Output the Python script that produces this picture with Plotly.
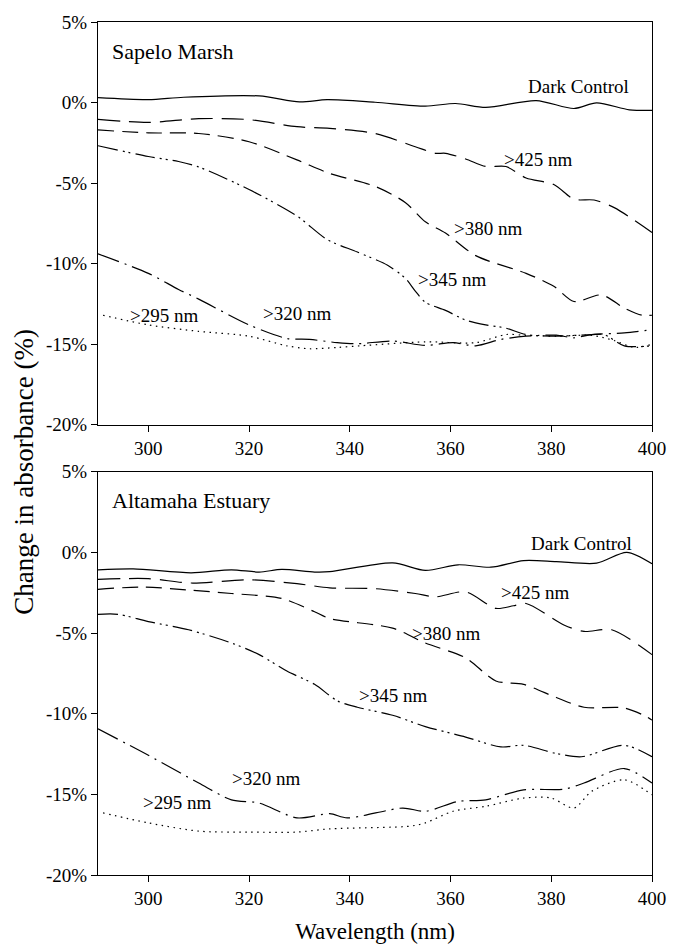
import plotly.graph_objects as go
from plotly.subplots import make_subplots

# ---------------- data (wavelength nm, change in absorbance %) ----------------
# Sapelo Marsh (top panel)
sap_dark_x = [290, 300, 307, 322, 330, 335.5, 345, 355, 361, 367, 377, 384.5, 389, 395.5, 400]
sap_dark_y = [0.3, 0.18, 0.33, 0.41, 0.04, 0.18, 0.02, -0.22, -0.06, -0.3, 0.12, -0.37, -0.02, -0.45, -0.49]

sap_425_x = [290, 300, 310, 320, 329.5, 336, 345, 353, 357, 359, 363, 367, 371, 375, 380.5, 384.5, 388.5, 392.5, 400]
sap_425_y = [-1.04, -1.23, -1.0, -1.06, -1.5, -1.6, -1.92, -2.74, -3.15, -3.15, -3.5, -3.97, -3.97, -4.68, -5.09, -6.0, -6.05, -6.52, -8.06]

sap_380_x = [290, 300, 310, 320, 329.5, 336, 345, 351, 355, 359, 365, 375, 380.5, 384.5, 390, 394.5, 398, 400]
sap_380_y = [-1.7, -1.88, -1.92, -2.43, -3.56, -4.4, -5.2, -6.2, -7.4, -8.1, -9.5, -10.6, -11.4, -12.35, -11.94, -12.76, -13.2, -13.2]

sap_345_x = [290, 300, 306, 310, 320, 329.5, 335.5, 341.5, 347.5, 351, 353, 355, 359, 363, 367, 371, 375, 381, 388, 390.5, 394.5, 400]
sap_345_y = [-2.68, -3.35, -3.66, -4.0, -5.4, -7.04, -8.5, -9.28, -10.1, -10.9, -11.7, -12.4, -12.9, -13.5, -13.8, -14.0, -14.4, -14.5, -14.4, -14.4, -15.1, -15.1]

sap_320_x = [290, 300, 306, 310, 320, 327.5, 332, 337.5, 341.5, 348.5, 355, 360.5, 365, 370, 375, 381, 384.5, 388, 394.5, 400]
sap_320_y = [-9.39, -10.6, -11.6, -12.2, -13.8, -14.64, -14.7, -14.9, -14.97, -14.8, -15.07, -14.9, -15.1, -14.7, -14.5, -14.44, -14.6, -14.4, -14.3, -14.1]

sap_295_x = [291, 300, 310, 320, 327.5, 332, 337.5, 342, 355, 365, 371, 375, 381, 388, 392.5, 396.5, 400]
sap_295_y = [-13.2, -13.8, -14.2, -14.5, -15.1, -15.28, -15.2, -15.1, -14.85, -14.9, -14.4, -14.45, -14.5, -14.45, -14.77, -15.2, -15.0]

# Altamaha Estuary (bottom panel)
alt_dark_x = [290, 297, 308.5, 316.5, 322, 326.5, 333, 336, 348.5, 355, 361.5, 368, 374.5, 381, 389, 395, 400]
alt_dark_y = [-1.08, -1.02, -1.27, -1.08, -1.22, -1.06, -1.22, -1.2, -0.65, -1.12, -0.77, -0.92, -0.51, -0.57, -0.67, 0.0, -0.71]

alt_425_x = [290, 300, 308.5, 320, 329.5, 336, 345, 353, 357, 363, 369, 372.5, 375, 382.5, 386.5, 392, 400]
alt_425_y = [-1.67, -1.63, -1.9, -1.7, -1.94, -2.2, -2.25, -2.55, -2.76, -2.45, -3.47, -3.31, -3.17, -4.5, -4.9, -4.8, -6.34]

alt_380_x = [290, 299, 308.5, 316.5, 326.5, 333, 336, 348.5, 355, 363, 369, 374.5, 381, 386.5, 394.5, 399, 400]
alt_380_y = [-2.29, -2.15, -2.35, -2.55, -2.86, -3.68, -4.1, -4.7, -5.62, -6.54, -7.97, -8.18, -9.0, -9.6, -9.65, -10.2, -10.4]

alt_345_x = [290, 294, 300, 308, 316.5, 322, 327.5, 333, 337.5, 341.5, 348.5, 355, 363, 370, 374.5, 381, 386, 394.5, 400]
alt_345_y = [-3.84, -3.84, -4.29, -4.8, -5.62, -6.34, -7.36, -8.18, -9.2, -9.6, -10.1, -10.8, -11.45, -12.06, -11.96, -12.47, -12.67, -11.96, -12.67]

alt_320_x = [290, 300, 310, 316.5, 322, 329.5, 336, 339.5, 350.5, 355, 361.5, 367, 374.5, 382.5, 386.5, 394.5, 400]
alt_320_y = [-10.94, -12.58, -14.3, -15.34, -15.54, -16.46, -16.2, -16.46, -15.85, -16.05, -15.44, -15.34, -14.72, -14.68, -14.3, -13.4, -14.3]

alt_295_x = [291, 300, 310, 320, 329.5, 336, 352, 355, 360.5, 367, 374.5, 380, 384.5, 388, 394.5, 400]
alt_295_y = [-16.15, -16.77, -17.28, -17.34, -17.34, -17.14, -16.97, -16.77, -16.05, -15.74, -15.23, -15.23, -15.85, -14.82, -14.1, -15.03]

# tick labels
x_ticks = [300, 320, 340, 360, 380, 400]
y_ticks = [5, 0, -5, -10, -15, -20]
y_tick_text = ["5%", "0%", "-5%", "-10%", "-15%", "-20%"]

panel_titles = ["Sapelo Marsh", "Altamaha Estuary"]
series_names = ["Dark Control", ">425 nm", ">380 nm", ">345 nm", ">320 nm", ">295 nm"]

# label positions (nm, %)
sap_label_x = [385.5, 377.3, 367.5, 360.2, 329.6, 303.1]
sap_label_y = [1.0, -3.56, -7.8, -11.0, -13.1, -13.2]
alt_label_x = [386.1, 376.7, 359.0, 348.6, 323.3, 305.7]
alt_label_y = [0.53, -2.5, -5.0, -8.9, -14.0, -15.5]

# ---------------- styling ----------------
FONT = "Liberation Serif"
dashes = ["solid", "22px,9px", "16px,8px", "20px,5px,2px,4px,2px,5px", "22px,6px,2px,6px", "1.5px,4.5px"]

fig = make_subplots(rows=2, cols=1, vertical_spacing=0.055)

panels = [
    ([(sap_dark_x, sap_dark_y), (sap_425_x, sap_425_y), (sap_380_x, sap_380_y),
      (sap_345_x, sap_345_y), (sap_320_x, sap_320_y), (sap_295_x, sap_295_y)],
     sap_label_x, sap_label_y),
    ([(alt_dark_x, alt_dark_y), (alt_425_x, alt_425_y), (alt_380_x, alt_380_y),
      (alt_345_x, alt_345_y), (alt_320_x, alt_320_y), (alt_295_x, alt_295_y)],
     alt_label_x, alt_label_y),
]

for r, (series, lx, ly) in enumerate(panels, start=1):
    for i, (xs, ys) in enumerate(series):
        fig.add_trace(go.Scatter(x=xs, y=ys, mode="lines", name=series_names[i],
                                 line=dict(color="black", width=1.2, dash=dashes[i],
                                           shape="spline", smoothing=0.8),
                                 showlegend=False), row=r, col=1)
    xref = "x" if r == 1 else "x2"
    yref = "y" if r == 1 else "y2"
    for i, name in enumerate(series_names):
        fig.add_annotation(x=lx[i], y=ly[i], xref=xref, yref=yref, text=name,
                           showarrow=False, xanchor="center", yanchor="middle",
                           font=dict(family=FONT, size=19, color="black"))
    fig.add_annotation(x=292.3, y=3.2, xref=xref, yref=yref, text=panel_titles[r - 1],
                       showarrow=False, xanchor="left", yanchor="middle",
                       font=dict(family=FONT, size=22, color="black"))

axis_common = dict(showline=True, linecolor="black", linewidth=1.2, mirror=True,
                   ticks="outside", ticklen=6, tickwidth=1, tickcolor="black",
                   showgrid=False, zeroline=False,
                   tickfont=dict(family=FONT, size=19, color="black"))

for r in (1, 2):
    fig.update_xaxes(range=[290, 400], tickvals=x_ticks, **axis_common, row=r, col=1)
    fig.update_yaxes(range=[-20, 5], tickvals=y_ticks, ticktext=y_tick_text,
                     **axis_common, row=r, col=1)

fig.update_xaxes(title=dict(text="Wavelength (nm)", font=dict(family=FONT, size=23, color="black"),
                            standoff=14), row=2, col=1)

fig.update_layout(
    width=678, height=951,
    margin=dict(l=98, r=19, t=20, b=68),
    paper_bgcolor="white", plot_bgcolor="white",
    xaxis=dict(domain=[0, 1]), xaxis2=dict(domain=[0, 1]),
    yaxis=dict(domain=[0.5278, 1.0]), yaxis2=dict(domain=[0.0, 0.4728]),
)

fig.add_annotation(text="Change in absorbance (%)", xref="paper", yref="paper",
                   x=-0.135, y=0.473, textangle=-90, showarrow=False,
                   xanchor="center", yanchor="middle",
                   font=dict(family=FONT, size=27, color="black"))

fig.write_html("out.html")
